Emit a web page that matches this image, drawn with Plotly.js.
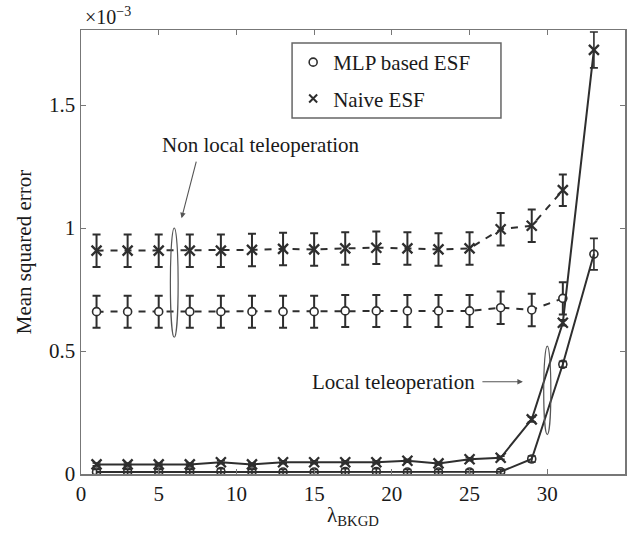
<!DOCTYPE html>
<html>
<head>
<meta charset="utf-8">
<script src="https://cdn.plot.ly/plotly-3.0.1.min.js"></script>
<style>
  html, body { margin: 0; padding: 0; background: #ffffff; }
  #chart { width: 634px; height: 533px; }
</style>
</head>
<body>
<div id="chart"></div>
<script>
// Background level lambda_BKGD
var lambdaNonLocal = [1, 3, 5, 7, 9, 11, 13, 15, 17, 19, 21, 23, 25, 27, 29, 31];
var lambdaLocal = [1, 3, 5, 7, 9, 11, 13, 15, 17, 19, 21, 23, 25, 27, 29, 31, 33];

// Mean squared error, in units of 1e-3
var mlpNonLocal = [0.66, 0.66, 0.66, 0.66, 0.66, 0.66, 0.66, 0.66, 0.663, 0.663, 0.663, 0.663, 0.663, 0.676, 0.667, 0.714];
var mlpNonLocalErr = [0.065, 0.065, 0.065, 0.065, 0.065, 0.065, 0.065, 0.065, 0.065, 0.065, 0.065, 0.065, 0.065, 0.066, 0.066, 0.066];
var naiveNonLocal = [0.908, 0.908, 0.908, 0.908, 0.908, 0.911, 0.915, 0.913, 0.917, 0.92, 0.917, 0.913, 0.917, 0.995, 1.009, 1.154];
var naiveNonLocalErr = [0.066, 0.066, 0.066, 0.066, 0.066, 0.066, 0.066, 0.066, 0.066, 0.066, 0.066, 0.066, 0.066, 0.066, 0.066, 0.064];

var mlpLocal = [0.008, 0.008, 0.008, 0.008, 0.01, 0.008, 0.008, 0.008, 0.01, 0.01, 0.008, 0.008, 0.008, 0.009, 0.061, 0.446, 0.894];
var mlpLocalErr = [0.01, 0.01, 0.01, 0.01, 0.012, 0.01, 0.01, 0.01, 0.012, 0.012, 0.01, 0.01, 0.01, 0.01, 0.012, 0.012, 0.064];
var naiveLocal = [0.039, 0.039, 0.039, 0.039, 0.048, 0.039, 0.048, 0.048, 0.048, 0.048, 0.054, 0.043, 0.06, 0.066, 0.222, 0.615, 1.724];
var naiveLocalErr = [0.006, 0.006, 0.006, 0.006, 0.006, 0.006, 0.006, 0.006, 0.006, 0.006, 0.006, 0.006, 0.006, 0.006, 0.01, 0.012, 0.073];

var legendNames = ['MLP based ESF', 'Naive ESF'];
var xTicks = [0, 5, 10, 15, 20, 25, 30, 35];
var yTicks = [0, 0.5, 1, 1.5];

var ink = '#2e2e2e';
var serif = 'Liberation Serif';

function errBars(arr, thick) {
  return { type: 'data', array: arr, visible: true, color: ink, thickness: thick, width: 4 };
}

var traces = [
  {
    x: lambdaNonLocal, y: mlpNonLocal, mode: 'lines+markers', showlegend: false,
    line: { color: ink, width: 2, dash: '7px,7px' },
    marker: { symbol: 'circle', size: 8, color: '#ffffff', line: { color: ink, width: 1.6 } },
    error_y: errBars(mlpNonLocalErr, 2)
  },
  {
    x: lambdaNonLocal, y: naiveNonLocal, mode: 'lines+markers', showlegend: false,
    line: { color: ink, width: 2, dash: '7px,7px' },
    marker: { symbol: 'x-thin', size: 10, color: ink, line: { color: ink, width: 2.3 } },
    error_y: errBars(naiveNonLocalErr, 2)
  },
  {
    x: lambdaLocal, y: mlpLocal, mode: 'lines+markers', showlegend: false,
    line: { color: ink, width: 2 },
    marker: { symbol: 'circle-open', size: 8, color: ink, line: { color: ink, width: 1.6 } },
    error_y: errBars(mlpLocalErr, 1.6)
  },
  {
    x: lambdaLocal, y: naiveLocal, mode: 'lines+markers', showlegend: false,
    line: { color: ink, width: 2 },
    marker: { symbol: 'x-thin', size: 10, color: ink, line: { color: ink, width: 2.3 } },
    error_y: errBars(naiveLocalErr, 1.6)
  },
  // legend entries (markers only)
  {
    x: [null], y: [null], mode: 'markers', name: legendNames[0], legendgroup: 'a',
    marker: { symbol: 'circle-open', size: 8, color: ink, line: { color: ink, width: 1.6 } }
  },
  {
    x: [null], y: [null], mode: 'markers', name: legendNames[1], legendgroup: 'b',
    marker: { symbol: 'x-thin', size: 8, color: ink, line: { color: ink, width: 2 } }
  }
];

function axisBase() {
  return {
    showline: true, mirror: 'ticks', linecolor: '#777777', linewidth: 1.5,
    ticks: 'inside', ticklen: 5, tickwidth: 1, tickcolor: '#777777',
    showgrid: false, zeroline: false,
    tickfont: { family: serif, size: 21, color: '#1a1a1a' }
  };
}

var xaxis = axisBase();
xaxis.range = [0, 35];
xaxis.tickvals = xTicks;
xaxis.title = { text: 'λ<sub>BKGD</sub>', font: { family: serif, size: 21 }, standoff: 2 };

var yaxis = axisBase();
yaxis.range = [0, 1.805];
yaxis.tickvals = yTicks;
yaxis.title = { text: 'Mean squared error', font: { family: serif, size: 21 }, standoff: 11 };

var layout = {
  width: 634, height: 533,
  margin: { l: 81, r: 9, t: 30, b: 59 },
  paper_bgcolor: '#ffffff', plot_bgcolor: '#ffffff',
  font: { family: serif, color: '#1a1a1a', size: 21 },
  xaxis: xaxis,
  yaxis: yaxis,
  showlegend: true,
  legend: {
    x: 0.39, y: 0.973, xanchor: 'left', yanchor: 'top',
    bgcolor: 'rgba(0,0,0,0)', borderwidth: 0,
    traceorder: 'grouped', tracegroupgap: 6,
    font: { family: serif, size: 21, color: '#1a1a1a' }
  },
  shapes: [
    // legend frame
    { type: 'rect', xref: 'paper', yref: 'paper', x0: 0.388, x1: 0.772, y0: 0.802, y1: 0.971,
      line: { color: '#666666', width: 1.5 }, fillcolor: '#ffffff', layer: 'below' },
    // group outlines
    { type: 'circle', xref: 'x', yref: 'y', x0: 5.75, x1: 6.25, y0: 0.556, y1: 1.0,
      line: { color: '#555555', width: 1.2 } },
    { type: 'circle', xref: 'x', yref: 'y', x0: 29.77, x1: 30.23, y0: 0.16, y1: 0.52,
      line: { color: '#555555', width: 1.2 } }
  ],
  annotations: [
    { xref: 'paper', yref: 'paper', x: 0.0, y: 1.0, xanchor: 'left', yanchor: 'bottom',
      xshift: 2, yshift: 0, showarrow: false, text: '×10<sup>−3</sup>',
      font: { family: serif, size: 20 } },
    { xref: 'x', yref: 'y', x: 11.6, y: 1.337, showarrow: false,
      text: 'Non local teleoperation', font: { family: serif, size: 21 } },
    { xref: 'x', yref: 'y', x: 6.47, y: 1.04, axref: 'x', ayref: 'y', ax: 7.44, ay: 1.276,
      showarrow: true, arrowhead: 2, arrowsize: 1, arrowwidth: 1.1, arrowcolor: '#555555', text: '' },
    { xref: 'x', yref: 'y', x: 28.43, y: 0.375, axref: 'x', ayref: 'y', ax: 20.1, ay: 0.375,
      showarrow: true, arrowhead: 2, arrowsize: 1, arrowwidth: 1.1, arrowcolor: '#555555',
      startstandoff: 6, text: 'Local teleoperation', font: { family: serif, size: 21 } }
  ]
};

Plotly.newPlot('chart', traces, layout, { staticPlot: true, displayModeBar: false });
</script>
</body>
</html>
